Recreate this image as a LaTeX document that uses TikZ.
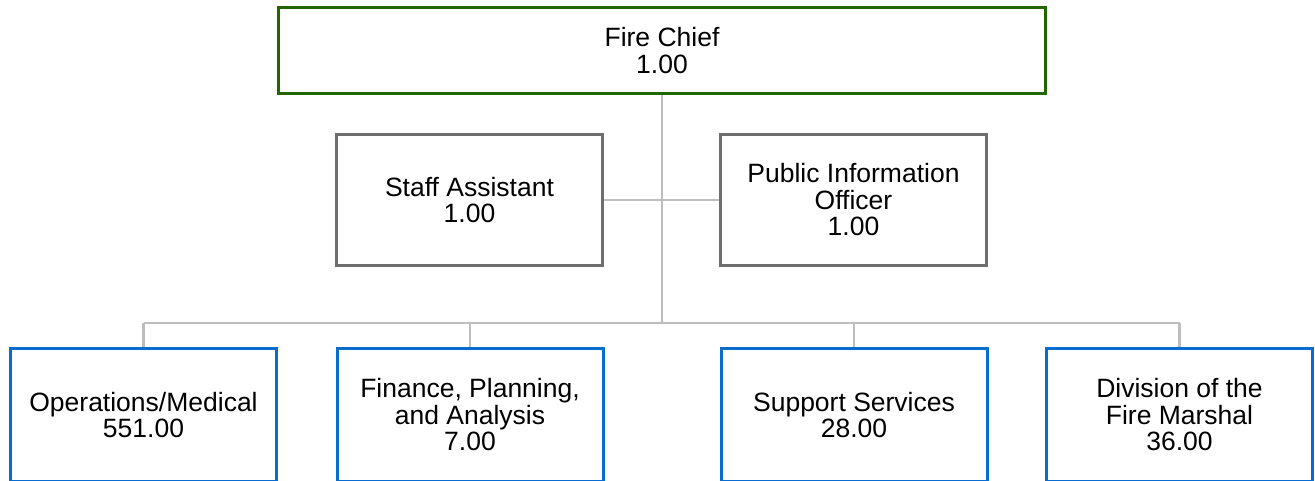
\documentclass[tikz,border=0pt]{standalone}
\usepackage{fontspec}
\setmainfont{Liberation Sans}
\usetikzlibrary{backgrounds}
\definecolor{chiefgreen}{HTML}{226600}
\definecolor{boxgrey}{HTML}{6E6E6E}
\definecolor{linegrey}{HTML}{BDBDBD}
\definecolor{unitblue}{HTML}{0A6BD0}
\tikzset{
  orgbox/.style={draw, inner sep=0pt, align=center,
    font=\fontsize{26.5}{26.5}\selectfont, fill=white},
  chiefbox/.style={orgbox, draw=chiefgreen, line width=3.2pt,
    minimum width=767pt, minimum height=86pt},
  staffbox/.style={orgbox, draw=boxgrey, line width=2.8pt,
    minimum width=266pt, minimum height=131pt},
  unitbox/.style={orgbox, draw=unitblue, line width=3pt,
    minimum width=266pt, minimum height=133pt},
  conn/.style={draw=linegrey, line width=2.6pt}
}
\begin{document}
\begin{tikzpicture}[x=1pt,y=-1pt]
\useasboundingbox (0,0) rectangle (1315,481);
\clip (0,0) rectangle (1315,481);
\node[chiefbox] (chief) at (662,50.5) {Fire Chief\\1.00};
\node[staffbox] (staff) at (469.5,200) {Staff Assistant\\1.00};
\node[staffbox] (pio) at (853.5,200) {Public Information\\Officer\\1.00};
\node[unitbox] (ops) at (143.5,415) {Operations/Medical\\551.00};
\node[unitbox] (fin) at (470,415) {Finance, Planning,\\and Analysis\\7.00};
\node[unitbox] (sup) at (854,415) {Support Services\\28.00};
\node[unitbox] (dfm) at (1179.5,415) {Division of the\\Fire Marshal\\36.00};
\coordinate (bus) at (662,323);
\coordinate (busL) at (143.5,323);
\coordinate (busR) at (1179.5,323);
\begin{scope}[on background layer]
\fill[white] (0,0) rectangle (1315,481);
\draw[conn] (chief.south) -- (bus);
\draw[conn] (staff.east) -- (pio.west);
\draw[conn] (busL) -- (busR);
\draw[conn] (busL) -- (ops.north);
\draw[conn] (fin.north) -- (fin.north |- bus);
\draw[conn] (sup.north) -- (sup.north |- bus);
\draw[conn] (busR) -- (dfm.north);
\end{scope}
\end{tikzpicture}
\end{document}
